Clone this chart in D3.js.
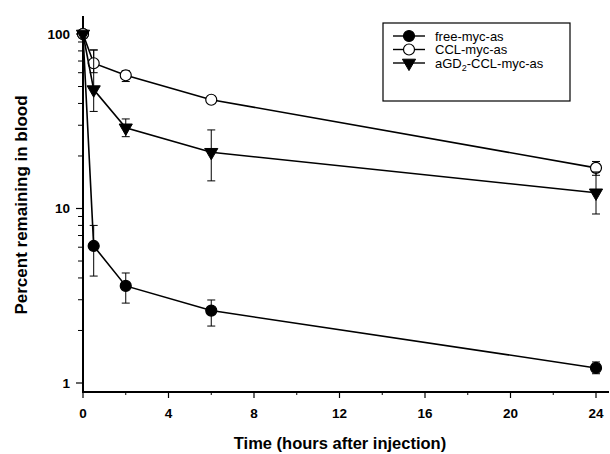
<!DOCTYPE html>
<html><head><meta charset="utf-8">
<script src="https://cdn.jsdelivr.net/npm/d3@7/dist/d3.min.js"></script>
<style>body{margin:0;background:#fff}svg{display:block}</style>
</head><body><svg id="c" width="610" height="454"></svg>
<script>
const times = [0, 0.5, 2, 6, 24];
const seriesNames = ["free-myc-as", "CCL-myc-as", "aGD2-CCL-myc-as"];
const freeVals = [100, 6.1, 3.6, 2.6, 1.22];
const freeLo = [100, 4.1, 2.87, 2.12, 1.13];
const freeHi = [100, 8.0, 4.27, 2.99, 1.32];
const cclVals = [100, 68, 58, 42, 17.1];
const cclLo = [100, 60, 53.4, 40, 15.5];
const cclHi = [100, 81, 61.7, 44, 18.6];
const agdVals = [100, 48, 29, 21, 12.3];
const agdLo = [100, 36, 25.8, 14.4, 9.3];
const agdHi = [100, 81, 32.6, 28.2, 16.2];
const xTicks = [0, 4, 8, 12, 16, 20, 24];
const yTicks = [1, 10, 100];

const svg = d3.select("#c");
const x = d3.scaleLinear().domain([0, 24]).range([83, 596]);
const y = d3.scaleLog().domain([1, 100]).range([383, 34]);
const yBottom = 392, yTop = 16, xRight = 609;
const F = "Arial, 'Liberation Sans', sans-serif";

// axes lines
svg.append("line").attr("x1", 83).attr("x2", 83).attr("y1", yTop).attr("y2", yBottom + 1)
  .attr("stroke", "#000").attr("stroke-width", 2);
svg.append("line").attr("x1", 82).attr("x2", xRight).attr("y1", yBottom).attr("y2", yBottom)
  .attr("stroke", "#000").attr("stroke-width", 2);

// y ticks
const yMinor = [];
[1, 10].forEach(d => { for (let k = 2; k <= 9; k++) yMinor.push(d * k); });
svg.selectAll(".ymin").data(yMinor).join("line")
  .attr("x1", 78).attr("x2", 83).attr("y1", d => y(d)).attr("y2", d => y(d))
  .attr("stroke", "#000").attr("stroke-width", 1);
svg.selectAll(".ymaj").data(yTicks).join("line")
  .attr("x1", 76).attr("x2", 83).attr("y1", d => y(d)).attr("y2", d => y(d))
  .attr("stroke", "#000").attr("stroke-width", 1.2);
svg.selectAll(".ylab").data(yTicks).join("text")
  .attr("x", 70).attr("y", d => y(d)).attr("dy", "0.36em")
  .attr("text-anchor", "end").attr("font-family", F).attr("font-weight", "bold")
  .attr("font-size", 13.5).text(d => d);

// x ticks
const xMinor = d3.range(2, 24, 4);
svg.selectAll(".xmin").data(xMinor).join("line")
  .attr("x1", d => x(d)).attr("x2", d => x(d)).attr("y1", yBottom).attr("y2", yBottom + 3)
  .attr("stroke", "#000").attr("stroke-width", 1);
svg.selectAll(".xmaj").data(xTicks).join("line")
  .attr("x1", d => x(d)).attr("x2", d => x(d)).attr("y1", yBottom).attr("y2", yBottom + 6)
  .attr("stroke", "#000").attr("stroke-width", 1.2);
svg.selectAll(".xlab").data(xTicks).join("text")
  .attr("x", d => x(d)).attr("y", 418)
  .attr("text-anchor", "middle").attr("font-family", F).attr("font-weight", "bold")
  .attr("font-size", 13.5).text(d => d);

// titles
svg.append("text").attr("x", 340).attr("y", 449).attr("text-anchor", "middle")
  .attr("font-family", F).attr("font-weight", "bold").attr("font-size", 16.5)
  .text("Time (hours after injection)");
svg.append("text").attr("transform", "translate(27,205) rotate(-90)").attr("text-anchor", "middle")
  .attr("font-family", F).attr("font-weight", "bold").attr("font-size", 17)
  .text("Percent remaining in blood");

const series = [
  {name: seriesNames[0], v: freeVals, lo: freeLo, hi: freeHi, shape: "circle", fill: "#000"},
  {name: seriesNames[1], v: cclVals, lo: cclLo, hi: cclHi, shape: "circle", fill: "#fff"},
  {name: seriesNames[2], v: agdVals, lo: agdLo, hi: agdHi, shape: "tri", fill: "#000"}
];

const line = d3.line().x(d => x(d[0])).y(d => y(d[1]));
const triPath = d3.symbol().type(d3.symbolTriangle).size(75);

function marker(g, s, cx, cy) {
  if (s.shape === "circle") {
    g.append("circle").attr("cx", cx).attr("cy", cy).attr("r", 5.5)
      .attr("fill", s.fill).attr("stroke", "#000").attr("stroke-width", 1.2);
  } else {
    g.append("path").attr("d", triPath())
      .attr("transform", `translate(${cx},${cy}) rotate(180)`)
      .attr("fill", s.fill).attr("stroke", "#000").attr("stroke-width", 1);
  }
}

series.forEach(s => {
  const g = svg.append("g");
  times.forEach((t, i) => {
    if (i === 0) return;
    const cx = x(t);
    g.append("line").attr("x1", cx).attr("x2", cx).attr("y1", y(s.hi[i])).attr("y2", y(s.lo[i]))
      .attr("stroke", "#000").attr("stroke-width", 1);
    [s.hi[i], s.lo[i]].forEach(v => {
      g.append("line").attr("x1", cx - 4).attr("x2", cx + 4).attr("y1", y(v)).attr("y2", y(v))
        .attr("stroke", "#000").attr("stroke-width", 1);
    });
  });
  g.append("path").datum(times.map((t, i) => [t, s.v[i]])).attr("d", line)
    .attr("fill", "none").attr("stroke", "#000").attr("stroke-width", 1.6);
  times.forEach((t, i) => marker(g, s, x(t), y(s.v[i])));
});

// legend
const lg = svg.append("g");
lg.append("rect").attr("x", 383).attr("y", 23).attr("width", 187).attr("height", 78)
  .attr("fill", "#fff").attr("stroke", "#000").attr("stroke-width", 1.2);
series.forEach((s, i) => {
  const yy = 36 + i * 13.5;
  lg.append("line").attr("x1", 393).attr("x2", 425).attr("y1", yy).attr("y2", yy)
    .attr("stroke", "#000").attr("stroke-width", 1.4);
  marker(lg, s, 409, yy);
  const t = lg.append("text").attr("x", 435).attr("y", yy).attr("dy", "0.36em")
    .attr("font-family", F).attr("font-size", 13);
  if (i === 2) {
    t.append("tspan").text("aGD");
    t.append("tspan").attr("font-size", 9).attr("dy", "3").text("2");
    t.append("tspan").attr("dy", "-3").text("-CCL-myc-as");
  } else t.text(s.name);
});
</script></body></html>
